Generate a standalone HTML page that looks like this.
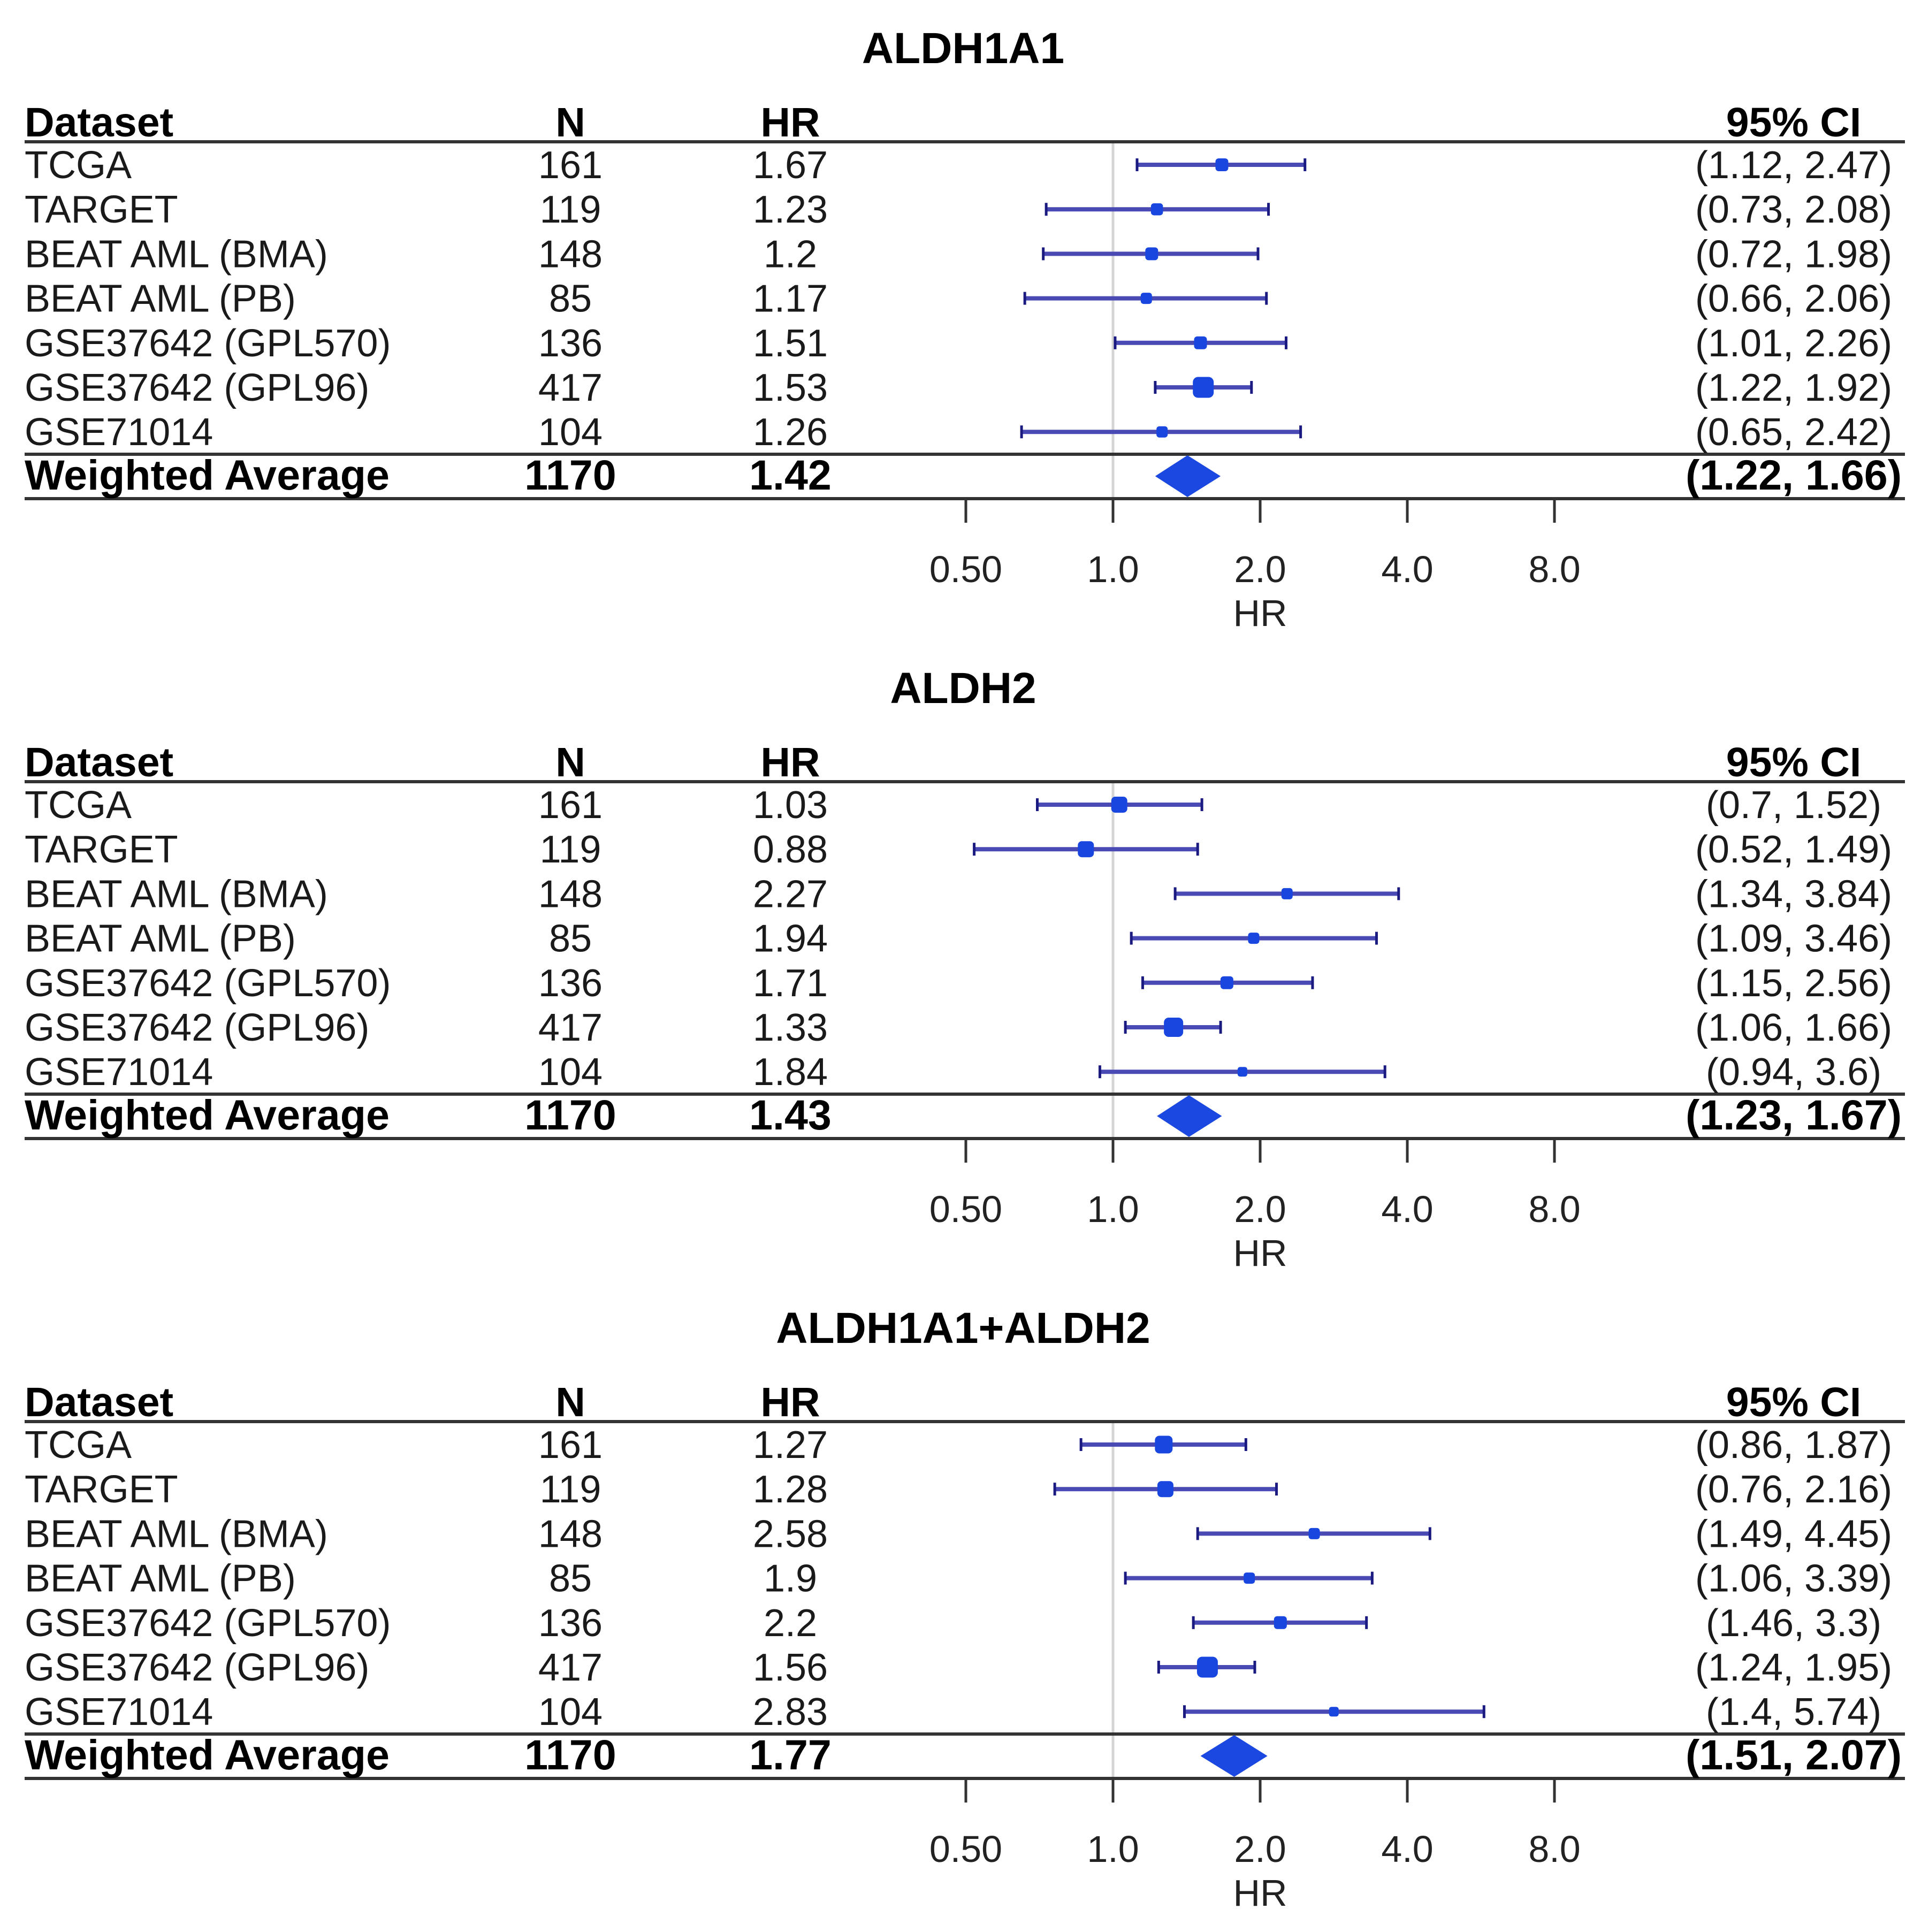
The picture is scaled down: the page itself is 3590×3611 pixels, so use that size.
<!DOCTYPE html>
<html><head><meta charset="utf-8"><style>
html,body{margin:0;padding:0;background:#fff;}
svg{display:block;font-family:"Liberation Sans",Arial,sans-serif;}
</style></head><body>
<svg id="chart" width="3590" height="3611" viewBox="0 0 3590 3611" xmlns="http://www.w3.org/2000/svg"></svg>
<script>
const titles = ["ALDH1A1", "ALDH2", "ALDH1A1+ALDH2"];
const datasets = ["TCGA","TARGET","BEAT AML (BMA)","BEAT AML (PB)","GSE37642 (GPL570)","GSE37642 (GPL96)","GSE71014"];
const nValues = [161,119,148,85,136,417,104];
const hr1 = [1.67,1.23,1.2,1.17,1.51,1.53,1.26];
const lo1 = [1.12,0.73,0.72,0.66,1.01,1.22,0.65];
const hi1 = [2.47,2.08,1.98,2.06,2.26,1.92,2.42];
const hr2 = [1.03,0.88,2.27,1.94,1.71,1.33,1.84];
const lo2 = [0.7,0.52,1.34,1.09,1.15,1.06,0.94];
const hi2 = [1.52,1.49,3.84,3.46,2.56,1.66,3.6];
const hr3 = [1.27,1.28,2.58,1.9,2.2,1.56,2.83];
const lo3 = [0.86,0.76,1.49,1.06,1.46,1.24,1.4];
const hi3 = [1.87,2.16,4.45,3.39,3.3,1.95,5.74];
const avgN = [1170,1170,1170];
const avgHR = [1.42,1.43,1.77];
const avgLo = [1.22,1.23,1.51];
const avgHi = [1.66,1.67,2.07];
const weight1 = [0.8,0.75,0.8,0.7,0.8,1.3,0.7];
const weight2 = [1.0,1.0,0.7,0.7,0.8,1.2,0.6];
const weight3 = [1.1,1.0,0.7,0.7,0.8,1.3,0.6];
const tickVals = [0.5,1,2,4,8];
const tickLabels = ["0.50","1.0","2.0","4.0","8.0"];

const HRs=[hr1,hr2,hr3], LOs=[lo1,lo2,lo3], HIs=[hi1,hi2,hi3], Ws=[weight1,weight2,weight3];
const NS="http://www.w3.org/2000/svg";
const svg=document.getElementById('chart');
function xScale(v){return 2080+Math.log2(v)*275;}
function mk(tag,attrs,parent,text){const e=document.createElementNS(NS,tag);for(const k in attrs)e.setAttribute(k,attrs[k]);if(text!==undefined)e.textContent=text;(parent||svg).appendChild(e);return e;}
function fmt(v){return String(v);}

for(let p=0;p<3;p++){
  const oy=p*1196;
  const g=mk('g',{transform:`translate(0,${oy})`});
  
  
  let t=mk('text',{x:1800,y:118,'text-anchor':'middle','font-size':82,'font-weight':'bold',fill:'#000'},g,titles[p]);
  
  
  const hdr=[["Dataset",46,'start'],["N",1066,'middle'],["HR",1477,'middle'],["95% CI",3352,'middle']];
  hdr.forEach(h=>{const e=mk('text',{x:h[1],y:255,'text-anchor':h[2],'font-size':77,'font-weight':'bold'},g,h[0]);
    
    });
  let rl=mk('line',{x1:2080,x2:2080,y1:265,y2:932,stroke:'#d4d4d4','stroke-width':5},g);
  
  
  [265,849,932].forEach(y=>{const l=mk('line',{x1:46,x2:3560,y1:y,y2:y,stroke:'#333','stroke-width':6},g);
    
    });
  const hr=HRs[p],lo=LOs[p],hi=HIs[p],w=Ws[p];
  for(let i=0;i<datasets.length;i++){
    const cy=308+i*83.2, by=cy+25;
    const cols=[[datasets[i],46,'start'],[fmt(nValues[i]),1066,'middle'],[fmt(hr[i]),1477,'middle'],['('+lo[i]+', '+hi[i]+')',3352,'middle']];
    cols.forEach(c=>{const e=mk('text',{x:c[1],y:by,'text-anchor':c[2],'font-size':72,fill:'#1a1a1a'},g,c[0]);
      
      });
    const x1=xScale(lo[i]),x2=xScale(hi[i]),xc=xScale(hr[i]);
    const ci=mk('line',{x1:x1,x2:x2,y1:cy,y2:cy,stroke:'#4a4ab4','stroke-width':8},g);
    
    
    [x1,x2].forEach(x=>{const c=mk('line',{x1:x,x2:x,y1:cy-12,y2:cy+12,stroke:'#1a1a80','stroke-width':5},g);
      
      });
    const s=30*w[i];
    const m=mk('rect',{x:xc-s/2,y:cy-s/2,width:s,height:s,rx:s*0.25,fill:'#1a46e0'},g);
    
    
  }
  const wy=915;
  const wcols=[["Weighted Average",46,'start'],[fmt(avgN[p]),1066,'middle'],[fmt(avgHR[p]),1477,'middle'],['('+avgLo[p]+', '+avgHi[p]+')',3352,'middle']];
  wcols.forEach(c=>{const e=mk('text',{x:c[1],y:wy,'text-anchor':c[2],'font-size':79,'font-weight':'bold'},g,c[0]);
    
    });
  const dl=xScale(avgLo[p]),dr=xScale(avgHi[p]),dc=xScale(avgHR[p]);
  const d=mk('polygon',{points:`${dl},890 ${dc},851 ${dr},890 ${dc},929`,fill:'#1a48e0'},g);
  
  
  tickVals.forEach((v,k)=>{
    const x=xScale(v);
    const tk=mk('line',{x1:x,x2:x,y1:932,y2:977,stroke:'#333','stroke-width':5},g);
    
    
    const tl=mk('text',{x:x,y:1088,'text-anchor':'middle','font-size':70,fill:'#222'},g,tickLabels[k]);
    
    
  });
  const ax=mk('text',{x:xScale(2),y:1170,'text-anchor':'middle','font-size':70,fill:'#222'},g,'HR');
  
  
}
</script>
</body></html>
